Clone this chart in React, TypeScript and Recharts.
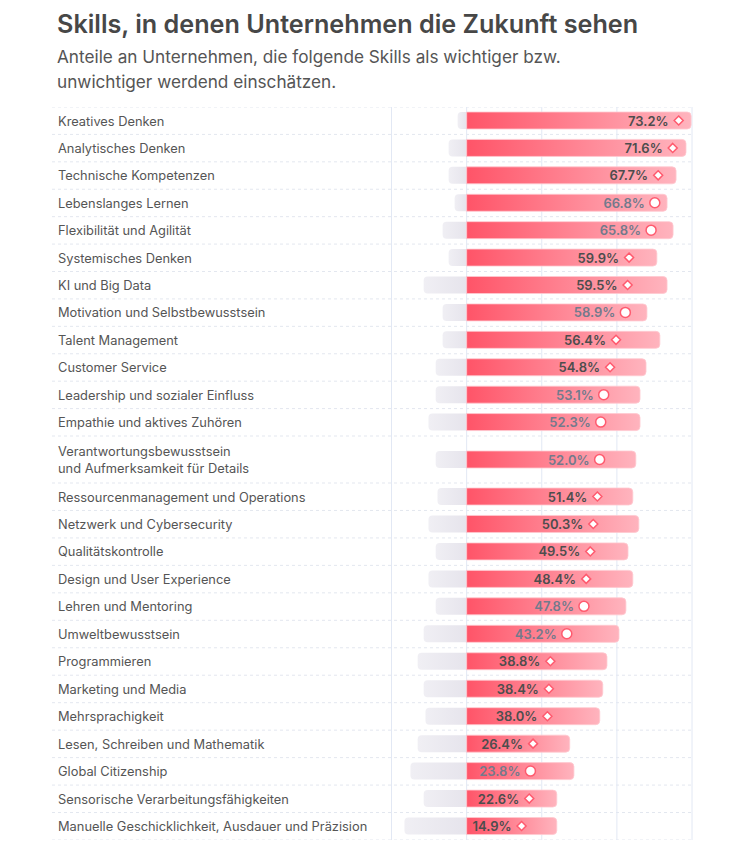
import React from 'react';
import { BarChart, Bar, XAxis, YAxis, CartesianGrid, LabelList } from 'recharts';

// Skills, top to bottom
const skills = [
  'Kreatives Denken',
  'Analytisches Denken',
  'Technische Kompetenzen',
  'Lebenslanges Lernen',
  'Flexibilität und Agilität',
  'Systemisches Denken',
  'KI und Big Data',
  'Motivation und Selbstbewusstsein',
  'Talent Management',
  'Customer Service',
  'Leadership und sozialer Einfluss',
  'Empathie und aktives Zuhören',
  'Verantwortungsbewusstsein\nund Aufmerksamkeit für Details',
  'Ressourcenmanagement und Operations',
  'Netzwerk und Cybersecurity',
  'Qualitätskontrolle',
  'Design und User Experience',
  'Lehren und Mentoring',
  'Umweltbewusstsein',
  'Programmieren',
  'Marketing und Media',
  'Mehrsprachigkeit',
  'Lesen, Schreiben und Mathematik',
  'Global Citizenship',
  'Sensorische Verarbeitungsfähigkeiten',
  'Manuelle Geschicklichkeit, Ausdauer und Präzision',
];

// share of companies: skill becomes more important (pink)
const moreImportant = [
  74.7, 73.0, 69.7, 66.7, 68.7, 63.3, 66.7, 60.0, 64.3, 59.7, 57.7, 57.7, 56.3,
  55.3, 57.3, 53.7, 55.3, 53.0, 50.7, 46.7, 45.3, 44.3, 34.3, 35.7, 30.0, 30.0,
];

// share of companies: skill becomes less important (grey)
const lessImportant = [
  3.0, 6.0, 6.0, 4.0, 8.0, 6.0, 14.3, 8.0, 8.0, 10.3, 10.3, 12.7, 10.3,
  9.7, 12.7, 10.3, 12.7, 10.3, 14.3, 16.3, 14.3, 13.7, 16.3, 18.7, 14.3, 20.7,
];

// printed value
const netShare = [
  73.2, 71.6, 67.7, 66.8, 65.8, 59.9, 59.5, 58.9, 56.4, 54.8, 53.1, 52.3, 52.0,
  51.4, 50.3, 49.5, 48.4, 47.8, 43.2, 38.8, 38.4, 38.0, 26.4, 23.8, 22.6, 14.9,
];

// marker shape next to the value
const markerType = [
  'diamond', 'diamond', 'diamond', 'circle', 'circle', 'diamond', 'diamond',
  'circle', 'diamond', 'diamond', 'circle', 'circle', 'circle', 'diamond',
  'diamond', 'diamond', 'diamond', 'circle', 'circle', 'diamond', 'diamond',
  'diamond', 'diamond', 'circle', 'diamond', 'diamond',
];

const gridTicks = [-25, 0, 25, 50, 75];
const xDomain = [-138, 75];

const FONT = 'Inter, "Noto Sans", sans-serif';
const PINK = '#ff5a6e';

const rows = skills.map((skill, i) => ({
  skill,
  more: moreImportant[i],
  less: -lessImportant[i],
}));

// label sits near the bar end for long bars, closer to the axis for short ones
const labelOffset = (net: number) => Math.max(40 + net, 3.73 * net - 61);

// skill name, left aligned at the start of the plot row
function SkillLabel(props: any) {
  const vb = props.viewBox ?? props;
  const cy = vb.y + vb.height / 2;
  const lines = String(props.value).split('\n');
  const lh = 17;
  const start = cy - ((lines.length - 1) * lh) / 2;
  return (
    <text fill="#555" fontSize={12.85} fontFamily={FONT} dominantBaseline="central">
      {lines.map((l, i) => (
        <tspan key={i} x={6} y={start + i * lh}>
          {l}
        </tspan>
      ))}
    </text>
  );
}

function NetLabel(props: any) {
  const vb = props.viewBox ?? props;
  const { x, y, height } = vb;
  const i = skills.indexOf(props.value);
  if (i < 0) return null;
  const net = netShare[i];
  const cx = x + labelOffset(net);
  const cy = y + height / 2;
  const circle = markerType[i] === 'circle';
  const d = 4.5;
  return (
    <g>
      <text
        x={cx - 10}
        y={cy}
        textAnchor="end"
        dominantBaseline="central"
        fontSize={13}
        fontWeight={600}
        fontFamily={FONT}
        fill={circle ? '#737a8c' : '#4d4d4d'}
      >
        {net.toFixed(1)}%
      </text>
      {circle ? (
        <circle cx={cx} cy={cy} r={5} fill="#fff" stroke={PINK} strokeWidth={1.5} />
      ) : (
        <path
          d={`M${cx},${cy - d} L${cx + d},${cy} L${cx},${cy + d} L${cx - d},${cy} Z`}
          fill="#fff"
          stroke={PINK}
          strokeWidth={1.5}
        />
      )}
    </g>
  );
}

// x position of a value inside the plot area
const xPos = (xAxis: any, offset: any, v: number) => {
  if (xAxis && typeof xAxis.scale === 'function') return xAxis.scale(v);
  return offset.left + ((v - xDomain[0]) / (xDomain[1] - xDomain[0])) * offset.width;
};

function SkillPanel({ data, height, id }: { data: any[]; height: number; id: string }) {
  return (
    <BarChart
      width={650}
      height={height}
      data={data}
      layout="vertical"
      stackOffset="sign"
      barSize={17}
      margin={{ top: 0, right: 10, bottom: 0, left: 0 }}
    >
      <defs>
        <linearGradient id={`pink-${id}`} x1="0" y1="0" x2="1" y2="0">
          <stop offset="0%" stopColor="#ff5468" />
          <stop offset="100%" stopColor="#ffb4be" />
        </linearGradient>
        <linearGradient id={`grey-${id}`} x1="0" y1="0" x2="1" y2="0">
          <stop offset="0%" stopColor="#f0eff4" />
          <stop offset="100%" stopColor="#e6e4ec" />
        </linearGradient>
      </defs>
      <CartesianGrid
        vertical={false}
        stroke="#e3e7ef"
        strokeDasharray="3 3"
        horizontalCoordinatesGenerator={({ offset }: any) => {
          const n = data.length;
          const pts: number[] = [];
          for (let k = 0; k <= n; k++) pts.push(offset.top + (k * offset.height) / n);
          return pts;
        }}
      />
      <CartesianGrid
        horizontal={false}
        stroke="#e2e8f4"
        verticalCoordinatesGenerator={({ xAxis, offset }: any) => gridTicks.map((t) => xPos(xAxis, offset, t))}
      />
      <XAxis type="number" domain={xDomain} ticks={gridTicks} hide />
      <YAxis type="category" dataKey="skill" hide />
      <Bar dataKey="less" stackId="s" fill={`url(#grey-${id})`} radius={[0, 4, 4, 0]} isAnimationActive={false}>
        <LabelList dataKey="skill" content={<SkillLabel />} />
      </Bar>
      <Bar
        dataKey="more"
        stackId="s"
        fill={`url(#pink-${id})`}
        stroke="#ffc9d0"
        strokeWidth={0.8}
        radius={[0, 4, 4, 0]}
        isAnimationActive={false}
      >
        <LabelList dataKey="skill" content={<NetLabel />} />
      </Bar>
    </BarChart>
  );
}

export default function App() {
  return (
    <div style={{ position: 'relative', width: 737, height: 842, fontFamily: FONT }}>
      <div
        style={{
          position: 'absolute',
          left: 49,
          top: 1,
          fontSize: 25.2,
          lineHeight: '30px',
          fontWeight: 600,
          color: '#474747',
          whiteSpace: 'nowrap',
        }}
      >
        Skills, in denen Unternehmen die Zukunft sehen
      </div>
      <div
        style={{
          position: 'absolute',
          left: 49,
          top: 36,
          fontSize: 17.2,
          lineHeight: '25px',
          color: '#555',
          whiteSpace: 'nowrap',
        }}
      >
        Anteile an Unternehmen, die folgende Skills als wichtiger bzw.
        <br />
        unwichtiger werdend einschätzen.
      </div>
      <div style={{ position: 'absolute', left: 44, top: 99 }}>
        <SkillPanel id="a" data={rows.slice(0, 12)} height={329} />
      </div>
      <div style={{ position: 'absolute', left: 44, top: 428 }}>
        <SkillPanel id="b" data={rows.slice(12, 13)} height={47} />
      </div>
      <div style={{ position: 'absolute', left: 44, top: 475 }}>
        <SkillPanel id="c" data={rows.slice(13)} height={357} />
      </div>
    </div>
  );
}
